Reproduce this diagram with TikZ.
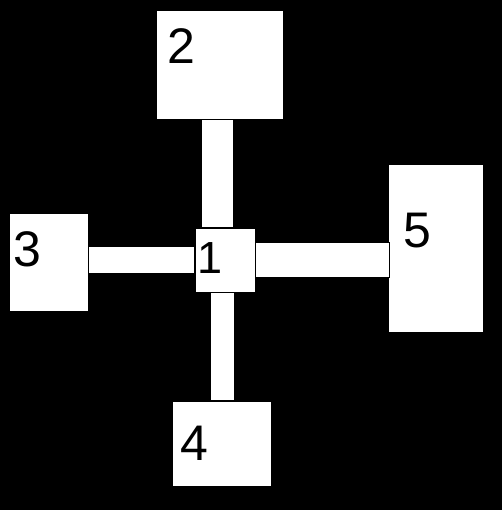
\documentclass[tikz,border=0pt]{standalone}
\usepackage{fontspec}
\setmainfont{Liberation Sans}
\begin{document}
\begin{tikzpicture}[x=1pt,y=-1pt,
  box/.style={fill=white,draw=black,line width=1pt,inner sep=0pt,anchor=north west},
  bar/.style={fill=white,draw=black,line width=1pt},
  lbl/.style={inner sep=0pt,anchor=base west,font=\fontsize{50}{50}\selectfont},
  lbls/.style={inner sep=0pt,anchor=base west,font=\fontsize{45}{45}\selectfont}]
\fill[black] (0,0) rectangle (502,510);
\useasboundingbox (0,0) rectangle (502,510);
% boxes
\node[box,minimum width=60pt,minimum height=64pt] (b1) at (195,228) {};
\node[box,minimum width=127pt,minimum height=109pt] (b2) at (156,10) {};
\node[box,minimum width=79pt,minimum height=98pt] (b3) at (9,213) {};
\node[box,minimum width=99pt,minimum height=85pt] (b4) at (172,401) {};
\node[box,minimum width=95.5pt,minimum height=168pt] (b5) at (387.5,164) {};
% bars
\draw[bar] (201,120) rectangle (233,228);
\draw[bar] (255.5,242) rectangle (389,277.5);
\draw[bar] (88,246) rectangle (194,273);
\draw[bar] (210,292) rectangle (234,400);
% labels
\node[lbls] (l1) at (197.3,273) {1};
\node[lbl] (l2) at (167.5,64) {2};
\node[lbl] (l3) at (13.7,266) {3};
\node[lbl] (l4) at (180.3,460) {4};
\node[lbl] (l5) at (403.7,247) {5};
\end{tikzpicture}
\end{document}
